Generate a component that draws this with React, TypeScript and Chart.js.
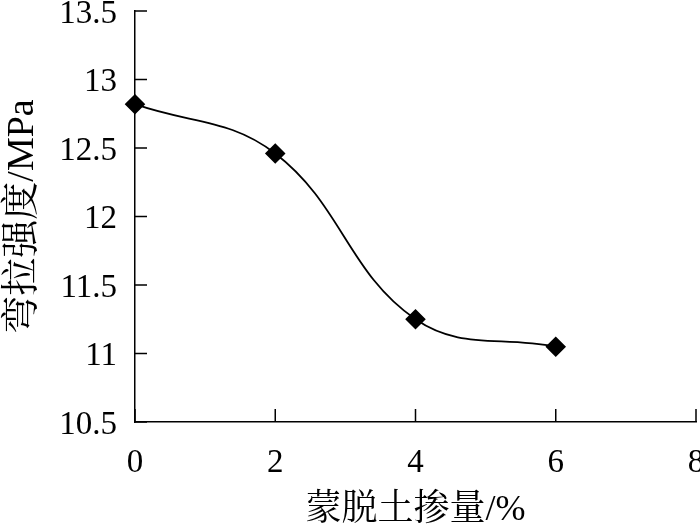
import React, { useEffect, useRef } from 'react';
import { Chart, registerables } from 'chart.js';
Chart.register(...registerables);

const xValues = [0, 2, 4, 6];
const yValues = [12.82, 12.46, 11.25, 11.05];
const xTicks = [0, 2, 4, 6, 8];
const yTicks = [10.5, 11, 11.5, 12, 12.5, 13, 13.5];
const xTitle = '蒙脱土掺量/%';
const yTitle = '弯拉强度/MPa';

const FONT = "'Liberation Serif', 'Times New Roman', 'Noto Serif CJK SC', 'Noto Sans CJK SC', serif";

const noScalePadding = {
  id: 'noScalePadding',
  beforeLayout(chart: any) {
    Object.values(chart.scales).forEach((s: any) => {
      s.getPadding = () => ({ left: 0, right: 0, top: 0, bottom: 0 });
      s._handleMargins = () => {};
    });
  },
};

const inwardTicks = {
  id: 'inwardTicks',
  afterDraw(chart: any) {
    const { ctx, scales, chartArea } = chart;
    const x = scales.x;
    const y = scales.y;
    ctx.save();
    ctx.strokeStyle = '#000';
    ctx.lineWidth = 1.5;
    ctx.beginPath();
    xTicks.forEach((v) => {
      const px = x.getPixelForValue(v);
      ctx.moveTo(px, chartArea.bottom);
      ctx.lineTo(px, chartArea.bottom - 13);
    });
    yTicks.forEach((v) => {
      const py = y.getPixelForValue(v);
      ctx.moveTo(chartArea.left, py);
      ctx.lineTo(chartArea.left + 12, py);
    });
    ctx.stroke();
    ctx.restore();
  },
};

export default function App() {
  const ref = useRef<HTMLCanvasElement | null>(null);
  useEffect(() => {
    document.body.style.margin = '0';
    const chart = new Chart(ref.current as HTMLCanvasElement, {
      type: 'line',
      data: {
        datasets: [
          {
            data: xValues.map((x, i) => ({ x, y: yValues[i] })),
            borderColor: '#000',
            backgroundColor: '#000',
            borderWidth: 1.8,
            tension: 0.4,
            pointStyle: 'rectRot',
            pointRadius: 9,
            pointBackgroundColor: '#000',
            pointBorderColor: '#000',
            fill: false,
            clip: false,
          },
        ],
      },
      options: {
        animation: false,
        responsive: false,
        maintainAspectRatio: false,
        layout: { autoPadding: false, padding: { top: 11, right: 4, left: 0, bottom: 0 } },
        plugins: { legend: { display: false }, tooltip: { enabled: false } },
        scales: {
          x: {
            type: 'linear',
            min: 0,
            max: 8,
            afterBuildTicks: (s: any) => {
              s.ticks = xTicks.map((v) => ({ value: v }));
            },
            afterFit: (s: any) => {
              s.height = 110;
              s.paddingLeft = 0;
              s.paddingRight = 0;
            },
            grid: { display: false, drawTicks: false },
            border: { display: true, color: '#000', width: 1.5 },
            ticks: {
              color: '#000',
              font: { family: FONT, size: 33 },
              padding: 22,
              maxRotation: 0,
              callback: (v: any) => String(v),
            },
            title: {
              display: true,
              text: xTitle,
              color: '#000',
              font: { family: FONT, size: 36 },
              padding: { top: 6, bottom: 0 },
            },
          },
          y: {
            type: 'linear',
            min: 10.5,
            max: 13.5,
            afterBuildTicks: (s: any) => {
              s.ticks = yTicks.map((v) => ({ value: v }));
            },
            afterFit: (s: any) => {
              s.width = 135;
              s.paddingTop = 0;
              s.paddingBottom = 0;
            },
            grid: { display: false, drawTicks: false },
            border: { display: true, color: '#000', width: 1.5 },
            ticks: {
              color: '#000',
              font: { family: FONT, size: 33 },
              padding: 18,
              labelOffset: 3,
              callback: (v: any) => String(v),
            },
            title: {
              display: true,
              text: yTitle,
              color: '#000',
              font: { family: FONT, size: 38 },
              padding: { top: 0, bottom: 0 },
            },
          },
        },
      },
      plugins: [noScalePadding, inwardTicks],
    });
    return () => chart.destroy();
  }, []);
  return (
    <div style={{ width: 700, height: 532 }}>
      <canvas ref={ref} width={700} height={532} style={{ width: 700, height: 532, display: 'block' }} />
    </div>
  );
}
